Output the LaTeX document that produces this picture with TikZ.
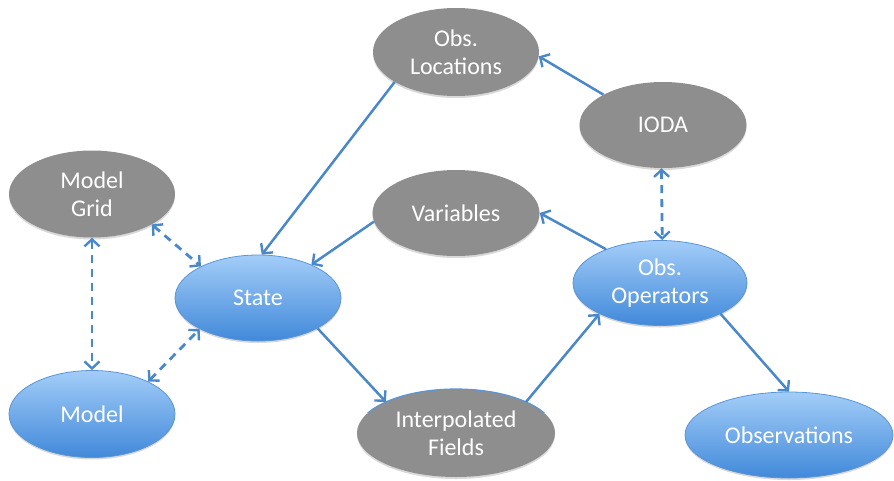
\documentclass[tikz,border=0pt]{standalone}
\usepackage{fontspec}
\setmainfont{Carlito}
\usetikzlibrary{shapes.geometric,arrows.meta,shadows}

\definecolor{nodegray}{HTML}{8E8E8E}
\definecolor{bluetop}{HTML}{A3CDF8}
\definecolor{bluebot}{HTML}{4189DA}
\definecolor{blueedge}{HTML}{5B95D6}
\definecolor{linkblue}{HTML}{4A88C9}

\tikzset{
  bubble/.style={ellipse, inner sep=0pt, align=center, text=white,
    font=\fontsize{24}{28}\selectfont,
    drop shadow={shadow xshift=0pt, shadow yshift=-2pt, opacity=0.25, fill=black!60}},
  graybubble/.style={bubble, fill=nodegray},
  bluebubble/.style={bubble, draw=blueedge, line width=0.8pt,
    top color=bluetop, bottom color=bluebot},
  tip/.style={Straight Barb[length=7pt,width=15pt,line width=2.4pt]},
  link/.style={draw=linkblue, line width=2.5pt, -{Straight Barb[length=7pt,width=15pt,line width=2.4pt]}},
  duallink/.style={draw=linkblue, line width=2.8pt, dash pattern=on 8pt off 6pt,
    {Straight Barb[length=7pt,width=15pt,line width=2.4pt]}-{Straight Barb[length=7pt,width=15pt,line width=2.4pt]}},
}

\begin{document}
\begin{tikzpicture}[x=1pt, y=-1pt]
  \useasboundingbox (0,0) rectangle (894,480);

  % nodes
  \node[graybubble, minimum width=166pt, minimum height=87pt] (grid) at (92,194) {Model\\Grid};
  \node[bluebubble, minimum width=166pt, minimum height=86pt] (state) at (258,298) {State};
  \node[bluebubble, minimum width=166pt, minimum height=87pt] (model) at (92,414) {Model};
  \node[graybubble, minimum width=166pt, minimum height=88pt] (locs) at (456,52) {Obs.\\Locations};
  \node[graybubble, minimum width=167pt, minimum height=86pt] (ioda) at (663,125) {IODA};
  \node[graybubble, minimum width=167pt, minimum height=86pt] (vars) at (456,213) {Variables};
  \node[graybubble, minimum width=198pt, minimum height=88pt] (interp) at (456,433) {Interpolated\\Fields};
  \node[bluebubble, minimum width=174pt, minimum height=85pt] (ops) at (660,283) {Obs.\\Operators};
  \node[bluebubble, minimum width=208pt, minimum height=86pt] (obs) at (789,435) {Observations};

  % thin blue rim along the top of the interpolated-fields bubble
  \begin{scope}
    \clip (350,380) rectangle (562,412);
    \draw[blueedge, line width=1.2pt] (interp.center) ellipse [x radius=99pt, y radius=44pt];
  \end{scope}

  % solid data-flow links
  \draw[link] (locs.206) -- (state.85);
  \draw[link] (ioda.153) -- (locs.-3);
  \draw[link] (vars.186) -- (state.32);
  \draw[link] (ops.148) -- (vars.0);
  \draw[link] (state.-27) -- (interp.156);
  \draw[link] (interp.24) -- (ops.207);
  \draw[link] (ops.-27) -- (obs.90);

  % dashed two-way links
  \draw[duallink] (ioda.268) -- (ops.87);
  \draw[duallink] (grid.-27) -- (state.151);
  \draw[duallink] (grid.270) -- (model.90);
  \draw[duallink] (model.30) -- (state.208);
\end{tikzpicture}
\end{document}
